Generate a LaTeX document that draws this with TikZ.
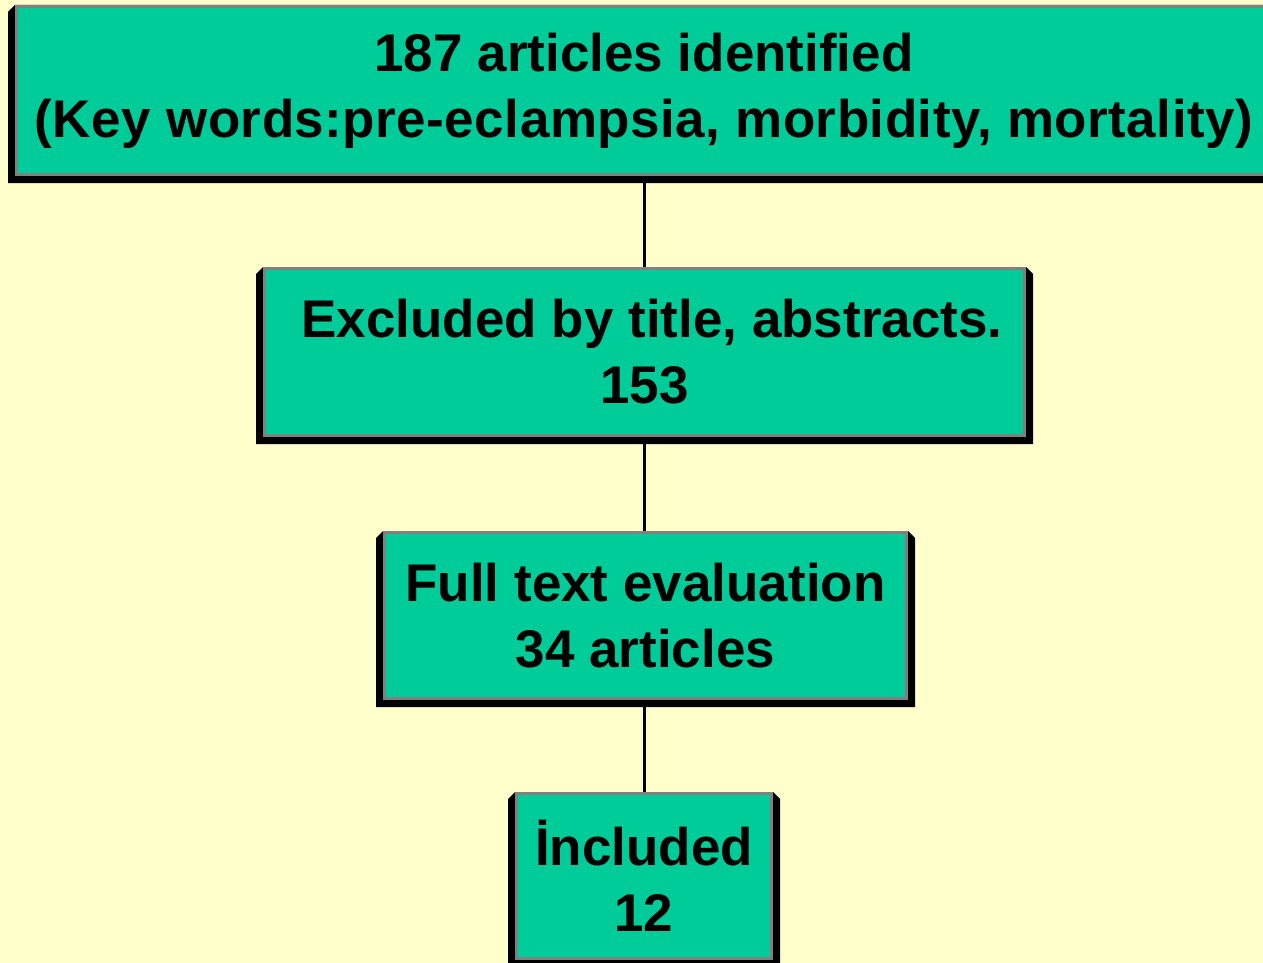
\documentclass[tikz,border=0pt]{standalone}
\usepackage{fontspec}
\setmainfont{Liberation Sans}
\usetikzlibrary{backgrounds,calc}
\definecolor{bgyellow}{HTML}{FFFFCC}
\definecolor{boxgreen}{HTML}{00CC99}
\definecolor{boxgray}{HTML}{808080}
\tikzset{
  flowbox/.style={draw=boxgray, line width=3pt, fill=boxgreen, inner sep=0pt,
    align=center, font=\fontsize{53}{66}\selectfont\bfseries},
  link/.style={line width=3pt, black},
}
\newcommand\boxshade[1]{%
  \fill[black] ($(#1.north west)+(-7,7)$) -- (#1.north west) -- (#1.north east)
    -- ($(#1.north east)+(7,7)$) -- ($(#1.south east)+(7,7)$)
    -- ($(#1.south west)+(-7,7)$) -- cycle;}
\begin{document}
\begin{tikzpicture}[x=1pt,y=-1pt]
\useasboundingbox (0,0) rectangle (1263,963);
\node[flowbox, minimum width=1255pt, minimum height=168pt] (a) at (644,90.5)
  {187 articles identified\\{\addfontfeature{LetterSpace=0.9}(Key words:pre-eclampsia, morbidity, mortality)}};
\node[flowbox, minimum width=760pt, minimum height=167pt] (b) at (644.5,352)
  {\hspace{15pt}Excluded by title, abstracts.\\153};
\node[flowbox, minimum width=522pt, minimum height=166pt] (c) at (645.5,615.5)
  {Full text evaluation\\34 articles};
\node[flowbox, minimum width=255pt, minimum height=165pt] (d) at (644,876)
  {İncluded\\12};
\begin{scope}[on background layer]
  \fill[bgyellow] (0,0) rectangle (1263,963);
  \boxshade{a}
  \boxshade{b}
  \boxshade{c}
  \boxshade{d}
  \draw[link] (a.south) -- (a.south |- b.north);
  \draw[link] (a.south |- b.south) -- (a.south |- c.north);
  \draw[link] (a.south |- c.south) -- (a.south |- d.north);
\end{scope}
\end{tikzpicture}
\end{document}
